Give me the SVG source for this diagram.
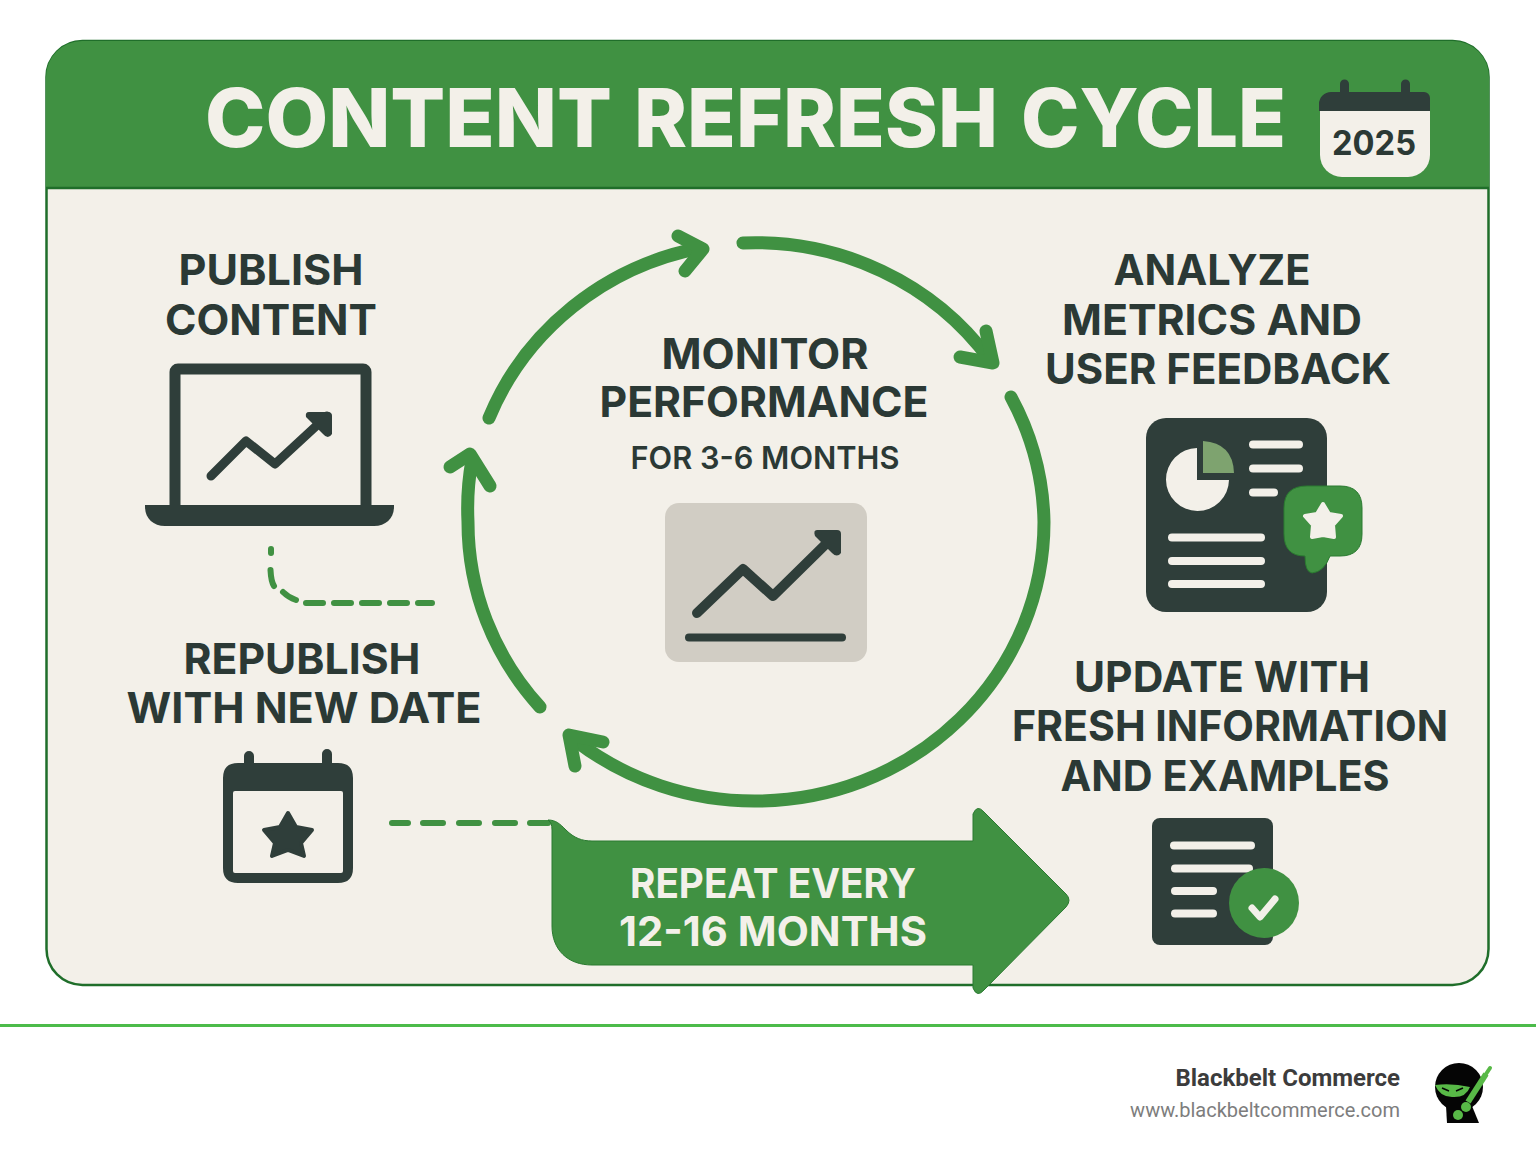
<svg xmlns="http://www.w3.org/2000/svg" width="1536" height="1154" viewBox="0 0 1536 1154">
<style>
.h{font-family:Inter,"Liberation Sans",sans-serif;font-weight:700;fill:#2b3935;text-anchor:middle}
.l{font-size:43px}
.t{font-family:Inter,"Liberation Sans",sans-serif;font-weight:800;font-size:81px;fill:#f3f0e9}
.arc{fill:none;stroke:#409142;stroke-width:13;stroke-linecap:round;stroke-linejoin:round}
.head{fill:none;stroke:#409142;stroke-width:13;stroke-linecap:round;stroke-linejoin:round}
.dash{fill:none;stroke:#409142;stroke-width:6;stroke-linecap:round}
.dk{fill:#2f3e3a}
.ln{stroke:#f3f0e9;stroke-width:8;stroke-linecap:round;fill:none}
.dl{fill:none;stroke:#2f3e3a;stroke-linecap:round;stroke-linejoin:round}
</style>
<rect width="1536" height="1154" fill="#fff"/>
<g id="panel">
<rect x="46.500" y="41" width="1442" height="944" rx="36" fill="#f3f0e9" stroke="#1f6e2a" stroke-width="2.500"/>
<path d="M46 188V77a36 36 0 0 1 36-36H1453a36 36 0 0 1 36 36V188Z" fill="#409142"/>
<path d="M46 188H1489" stroke="#1f6e2a" stroke-width="2.500"/>
</g>
<g id="title">
<text class="t" x="205" y="147" textLength="407" lengthAdjust="spacingAndGlyphs">CONTENT</text>
<text class="t" x="634" y="147" textLength="364" lengthAdjust="spacingAndGlyphs">REFRESH</text>
<text class="t" x="1021" y="147" textLength="265" lengthAdjust="spacingAndGlyphs">CYCLE</text>
</g>
<g id="badge-2025">
<path d="M1320 108H1430V155a22 22 0 0 1-22 22H1342a22 22 0 0 1-22-22Z" fill="#f3f0e9"/>
<path d="M1319 111V104a12 12 0 0 1 12-12H1340V84a4.500 4.500 0 0 1 9 0V92H1401V84a4.500 4.500 0 0 1 9 0V92H1424a6 6 0 0 1 6 6V111Z" class="dk"/>
<text x="1374" y="155" text-anchor="middle" font-family="Inter,'Liberation Sans',sans-serif" font-weight="700" font-size="34" fill="#2b3935" textLength="84" lengthAdjust="spacingAndGlyphs">2025</text>
</g>
<g id="connectors">
<path class="arc" d="M743 243A288 279 0 0 1 990 360"/>
<path class="head" d="M960 357L993 363L986 331"/>
<path class="arc" d="M1011 397A288 279 0 0 1 1044 522A288 279 0 0 1 756 801A288 279 0 0 1 576 741"/>
<path class="head" d="M575 766L569 735L603 742"/>
<path class="arc" d="M540 707A288 279 0 0 1 468 522A288 279 0 0 1 472 460"/>
<path class="head" d="M450 467L470 454L490 486"/>
<path class="arc" d="M489 418A288 279 0 0 1 700 248"/>
<path class="head" d="M678 236L703 249L685 271"/>
<path class="dash" d="M271 549V553"/>
<path class="dash" d="M270.500 570C271 580 272 583 274 586"/>
<path class="dash" d="M283 592C287 596 290 598 296 600"/>
<path class="dash" d="M306 603H432" stroke-dasharray="17 11"/>
<path class="dash" d="M392 823H408"/>
<path class="dash" d="M423 823H443M459 823H479M495 823H515M530 823H548"/>
</g>
<g id="repeat-arrow">
<path d="M548 820C556 820 560 824 566 830C574 838 582 841 592 841H973V814Q977 804 984 812L1066 894Q1072 900 1066 907L984 990Q977 998 973 988V965H592C568 965 552 950 552 926V830C552 825 551 822 548 820Z" fill="#409142" stroke="#2a7a30" stroke-width="1"/>
<text class="h" x="773" y="898" style="font-size:41px;fill:#f3f0e9" textLength="286" lengthAdjust="spacingAndGlyphs">REPEAT EVERY</text>
<text class="h" x="773" y="946" style="font-size:41px;fill:#f3f0e9" textLength="308" lengthAdjust="spacingAndGlyphs">12-16 MONTHS</text>
</g>
<g id="publish">
<text class="h l" x="271" y="285" textLength="185" lengthAdjust="spacingAndGlyphs">PUBLISH</text>
<text class="h l" x="271" y="335" textLength="212" lengthAdjust="spacingAndGlyphs">CONTENT</text>
<rect x="175" y="369" width="191" height="142" rx="3" fill="none" stroke="#2f3e3a" stroke-width="11"/>
<path d="M145 505H394V507C394 518 386 526 374 526H165C153 526 145 518 145 507Z" class="dk"/>
<path class="dl" stroke-width="9" d="M211 476L246 441L275 464L327 416"/>
<path class="dk" d="M309 412H328a4 4 0 0 1 4 4V434Q328 440 323 434L306 417Q305 412 309 412Z"/>
</g>
<g id="analyze">
<text class="h l" x="1212" y="285" textLength="197" lengthAdjust="spacingAndGlyphs">ANALYZE</text>
<text class="h l" x="1212" y="335" textLength="300" lengthAdjust="spacingAndGlyphs">METRICS AND</text>
<text class="h l" x="1218" y="384" textLength="346" lengthAdjust="spacingAndGlyphs">USER FEEDBACK</text>
<rect x="1146" y="418" width="181" height="194" rx="20" class="dk"/>
<path d="M1197 448V480H1229A31.500 31.500 0 1 1 1197 448Z" fill="#f3f0e9"/>
<path d="M1203 441Q1233 443 1234 473H1203Z" fill="#7ea36f"/>
<path class="ln" d="M1253 444.500H1299M1253 468.500H1299M1253 492.500H1274M1172 537.500H1261M1172 561H1261M1172 584H1261"/>
<path d="M1307 486H1340Q1362 486 1362 508V534Q1362 556 1340 556H1330Q1324 572 1312 573Q1305 572 1305 556Q1284 556 1284 534V508Q1284 486 1307 486Z" fill="#409142" stroke="#2a7a30"/>
<path d="M1323 504L1329 514L1341 516L1333 525L1334 537L1323 535L1312 537L1313 525L1305 516L1317 514Z" fill="#f3f0e9" stroke="#f3f0e9" stroke-width="4" stroke-linejoin="round"/>
</g>
<g id="monitor">
<text class="h l" x="765" y="369" textLength="207" lengthAdjust="spacingAndGlyphs">MONITOR</text>
<text class="h l" x="764" y="417" textLength="329" lengthAdjust="spacingAndGlyphs">PERFORMANCE</text>
<text class="h" x="765" y="469" style="font-size:31px;font-weight:600" textLength="269" lengthAdjust="spacingAndGlyphs">FOR 3-6 MONTHS</text>
<rect x="665" y="503" width="202" height="159" rx="14" fill="#d1cdc4"/>
<path class="dl" stroke-width="10" d="M697 613L743 569L773 596L832 538"/>
<path class="dk" d="M817 530H837a4 4 0 0 1 4 4V553Q837 558 832 553L815 536Q813 530 817 530Z"/>
<path class="dl" stroke-width="8" d="M689 637.500H842"/>
</g>
<g id="republish">
<text class="h l" x="302" y="674" textLength="237" lengthAdjust="spacingAndGlyphs">REPUBLISH</text>
<text class="h l" x="304" y="723" textLength="355" lengthAdjust="spacingAndGlyphs">WITH NEW DATE</text>
<path class="dk" d="M223 778Q223 763 238 763H244V756a5 5 0 0 1 10 0V763H322V754a5 5 0 0 1 10 0V763H338Q353 763 353 778V868Q353 883 338 883H238Q223 883 223 868Z"/>
<rect x="233" y="791" width="110" height="82" rx="2" fill="#f3f0e9"/>
<path d="M288 813L296 827L312 830L301 843L304 856L288 850L272 856L275 843L264 830L280 827Z" class="dk" stroke="#2f3e3a" stroke-width="4" stroke-linejoin="round"/>
</g>
<g id="update">
<text class="h l" x="1222" y="692" textLength="296" lengthAdjust="spacingAndGlyphs">UPDATE WITH</text>
<text class="h l" x="1230" y="741" textLength="436" lengthAdjust="spacingAndGlyphs">FRESH INFORMATION</text>
<text class="h l" x="1225" y="791" textLength="329" lengthAdjust="spacingAndGlyphs">AND EXAMPLES</text>
<rect x="1152" y="818" width="121" height="127" rx="8" class="dk"/>
<path class="ln" d="M1174 845.500H1251M1175 868.500H1249M1175 891H1213M1175 913.500H1213"/>
<circle cx="1264" cy="903" r="35" fill="#409142"/>
<path d="M1252 908L1260 917L1275 899" fill="none" stroke="#f3f0e9" stroke-width="7" stroke-linecap="round" stroke-linejoin="round"/>
</g>
<g id="footer">
<rect x="0" y="1024" width="1536" height="3" fill="#4cbb4a"/>
<text x="1400" y="1086" text-anchor="end" font-family="Roboto,sans-serif" font-weight="700" font-size="24" fill="#3c3c3c">Blackbelt Commerce</text>
<text x="1400" y="1117" text-anchor="end" font-family="Roboto,sans-serif" font-size="20" fill="#7d7d7d">www.blackbeltcommerce.com</text>
<circle cx="1459" cy="1087" r="24" fill="#050505"/>
<path d="M1446 1106H1472L1479 1123H1447Z" fill="#050505"/>
<path d="M1435 1085Q1452 1083 1470 1087Q1466 1098 1452 1097Q1440 1097 1435 1085Z" fill="#58b947"/>
<path d="M1442 1088L1449 1091M1463 1088L1456 1091" stroke="#050505" stroke-width="1.500"/>
<path d="M1468 1102L1486 1074" stroke="#58b947" stroke-width="6"/>
<path d="M1486 1074L1490 1068" stroke="#58b947" stroke-width="4" stroke-linecap="round"/>
<circle cx="1466" cy="1107" r="5" fill="#58b947"/>
<circle cx="1458" cy="1115" r="5" fill="#58b947"/>
</g>
</svg>
